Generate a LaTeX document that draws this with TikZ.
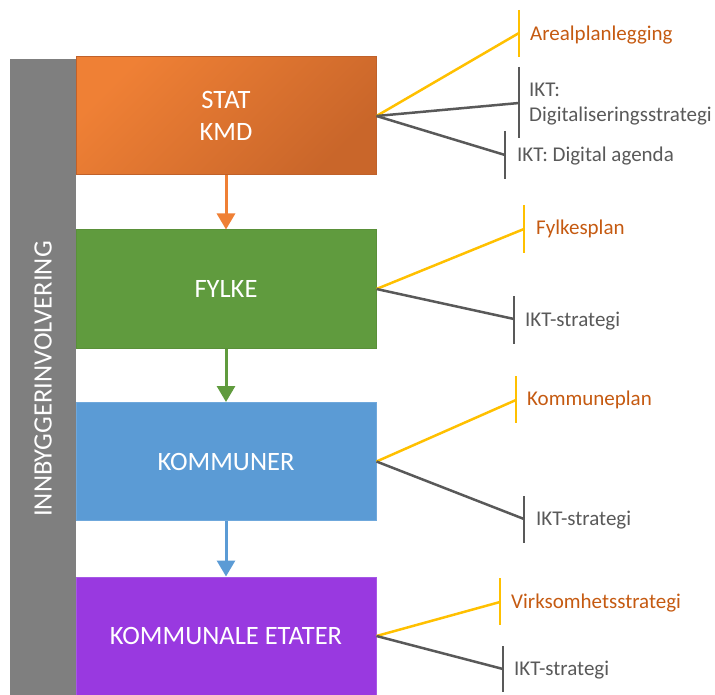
\documentclass[tikz,border=0pt]{standalone}
\usepackage{fontspec}
\setmainfont{Carlito}
\usetikzlibrary{arrows.meta}
\definecolor{statA}{HTML}{EF8035}
\definecolor{statB}{HTML}{C9662A}
\definecolor{statEdge}{HTML}{C0612A}
\definecolor{fylkeFill}{HTML}{609B3E}
\definecolor{fylkeEdge}{HTML}{5A9039}
\definecolor{kommuneFill}{HTML}{5B9BD5}
\definecolor{kommuneEdge}{HTML}{6FA8DC}
\definecolor{etatFill}{HTML}{9939E0}
\definecolor{etatEdge}{HTML}{A658E6}
\definecolor{sideBar}{HTML}{7F7F7F}
\definecolor{planYellow}{HTML}{FFC000}
\definecolor{iktGray}{HTML}{595959}
\definecolor{planText}{HTML}{C55A11}

\begin{document}
\begin{tikzpicture}[x=1pt, y=-1pt,
  level/.style={minimum width=300pt, minimum height=118pt, inner sep=0pt,
    text=white, font=\fontsize{26.5}{32}\selectfont, align=center, line width=1pt},
  flow/.style={line width=3pt, -{Triangle[width=18pt,length=16pt]}},
  planline/.style={draw=planYellow, line width=2.5pt},
  iktline/.style={draw=iktGray, line width=2.5pt},
  plantag/.style={anchor=base west, inner sep=0pt, text=planText,
    font=\fontsize{21}{25}\selectfont},
  ikttag/.style={anchor=base west, inner sep=0pt, text=iktGray,
    font=\fontsize{21}{25}\selectfont, align=left}
]
\useasboundingbox (0,0) rectangle (715,695);
\clip (0,0) rectangle (715,695);

% citizen involvement bar along the whole hierarchy
\node[fill=sideBar, rotate=90, minimum width=640pt, minimum height=66pt,
  inner sep=0pt, text=white, font=\fontsize{26.5}{32}\selectfont]
  (inv) at (43,379) {INNBYGGERINVOLVERING};

% the four levels of government
\node[level, draw=statEdge, top color=statA, bottom color=statB, shading angle=45]
  (stat) at (226,116) {STAT\\KMD};
\node[level, draw=fylkeEdge, fill=fylkeFill] (fylke) at (226,289) {FYLKE};
\node[level, draw=kommuneEdge, fill=kommuneFill] (kommune) at (226,461.5) {KOMMUNER};
\node[level, draw=etatEdge, fill=etatFill] (etat) at (226,636) {KOMMUNALE ETATER};

% downward flow between the levels
\draw[flow, draw=statA, fill=statA] (stat.south) -- (fylke.north);
\draw[flow, draw=fylkeFill, fill=fylkeFill] (fylke.south) -- (kommune.north);
\draw[flow, draw=kommuneFill, fill=kommuneFill] (kommune.south) -- (etat.north);

% end points of the plan branches
\coordinate (a1) at (519,33);
\coordinate (a2) at (519,103);
\coordinate (a3) at (505,155);
\coordinate (b1) at (524,229);
\coordinate (b2) at (514,319);
\coordinate (c1) at (516,400);
\coordinate (c2) at (524,519);
\coordinate (d1) at (500,602);
\coordinate (d2) at (503,669);

% STAT
\draw[planline] (stat.east) -- (a1);
\draw[iktline] (stat.east) -- (a2);
\draw[iktline] (stat.east) -- (a3);
\draw[planline] (a1) ++(0,-23) -- ++(0,47);
\draw[iktline] (a2) ++(0,-36) -- ++(0,71);
\draw[iktline] (a3) ++(0,-24) -- ++(0,48);
\node[plantag] (a1t) at (530,41) {Arealplanlegging};
\node[ikttag] (a2t) at (529,122) {IKT:\\Digitaliseringsstrategi};
\node[ikttag] (a3t) at (517,162) {IKT: Digital agenda};

% FYLKE
\draw[planline] (fylke.east) -- (b1);
\draw[iktline] (fylke.east) -- (b2);
\draw[planline] (b1) ++(0,-24) -- ++(0,48);
\draw[iktline] (b2) ++(0,-23) -- ++(0,48);
\node[plantag] (b1t) at (536,234.5) {Fylkesplan};
\node[ikttag] (b2t) at (525,326) {IKT-strategi};

% KOMMUNER
\draw[planline] (kommune.east) -- (c1);
\draw[iktline] (kommune.east) -- (c2);
\draw[planline] (c1) ++(0,-24) -- ++(0,47);
\draw[iktline] (c2) ++(0,-23) -- ++(0,47);
\node[plantag] (c1t) at (527,405.5) {Kommuneplan};
\node[ikttag] (c2t) at (536,525.5) {IKT-strategi};

% KOMMUNALE ETATER
\draw[planline] (etat.east) -- (d1);
\draw[iktline] (etat.east) -- (d2);
\draw[planline] (d1) ++(0,-24) -- ++(0,47);
\draw[iktline] (d2) ++(0,-23) -- ++(0,46);
\node[plantag] (d1t) at (511,608) {Virksomhetsstrategi};
\node[ikttag] (d2t) at (514,675) {IKT-strategi};
\end{tikzpicture}
\end{document}
